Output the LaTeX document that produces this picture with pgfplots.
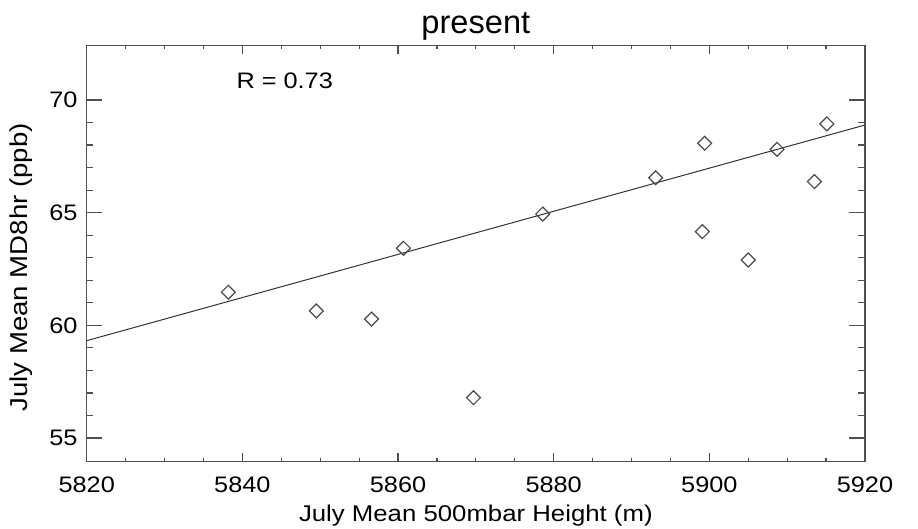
\documentclass[border=0pt]{standalone}
\usepackage{fontspec}
\setmainfont{Liberation Sans}[FakeStretch=1.13]
\newfontfamily\titlefont{Liberation Sans}
\usepackage{pgfplots}
\pgfplotsset{compat=1.18}
\definecolor{axgray}{HTML}{505050}
\definecolor{mkgray}{HTML}{4A4A4A}
\pgfplotstableread{
x y
5838.2 61.47
5849.5 60.64
5856.6 60.28
5860.7 63.42
5869.7 56.79
5878.6 64.94
5893.1 66.55
5899.4 68.08
5899.1 64.16
5905.0 62.90
5908.7 67.81
5913.5 66.38
5915.1 68.94
}\pts
\pgfplotstableread{
x y
5820 59.32
5920 68.89
}\fit
\begin{document}
\begin{tikzpicture}
\useasboundingbox (-43.35pt,-33.65pt) rectangle (415.65pt,230.85pt);
\begin{axis}[
  at={(0,0)}, anchor=south west,
  scale only axis,
  width=389.15pt, height=208pt,
  xmin=5820, xmax=5920, ymin=53.95, ymax=72.41,
  xtick={5820,5840,5860,5880,5900,5920},
  ytick={55,60,65,70},
  minor x tick num=3, minor y tick num=4,
  tick align=inside, tick pos=both,
  major tick length=7.85pt, minor tick length=3.35pt,
  xtick style={/pgfplots/major tick length=4.2pt,/pgfplots/minor tick length=1.7pt},
  axis line style={axgray, line width=0.75pt},
  every tick/.style={axgray, line width=0.6pt},
  /pgf/number format/assume math mode=true,
  /pgf/number format/1000 sep={},
  tick label style={font=\fontsize{11.2}{13}\selectfont, inner sep=0pt},
  xticklabel style={anchor=base, yshift=-15.65pt},
  yticklabel style={anchor=east, xshift=-4.4pt},
  xlabel={July Mean 500mbar Height (m)},
  ylabel={July Mean MD8hr (ppb)},
  xlabel style={font=\fontsize{11.4}{13}\selectfont, at={(axis description cs:0.5,0)}, anchor=base, yshift=-30pt, inner sep=0pt},
  ylabel style={font=\fontsize{12.2}{14}\selectfont, at={([xshift=-29.65pt]axis description cs:0,0.467)}, anchor=base, rotate=0, inner sep=0pt},
  title={present},
  every axis title shift=0pt,
  title style={font=\titlefont\fontsize{16.3}{18}\selectfont, at={(axis description cs:0.5,1)}, anchor=base, yshift=6.2pt, inner sep=0pt},
]
\addplot[black!80, line width=0.5pt] table[x=x,y=y] {\fit};
\addplot[only marks, mark=square, mark size=2.45pt, mark options={rotate=45, mkgray, line width=0.6pt, fill=none}] table[x=x,y=y] {\pts};
\node[anchor=base west, inner sep=0pt, font=\fontsize{11.2}{13}\selectfont] at (axis cs:5839.2,70.49) {R = 0.73};
\end{axis}
\end{tikzpicture}
\end{document}
